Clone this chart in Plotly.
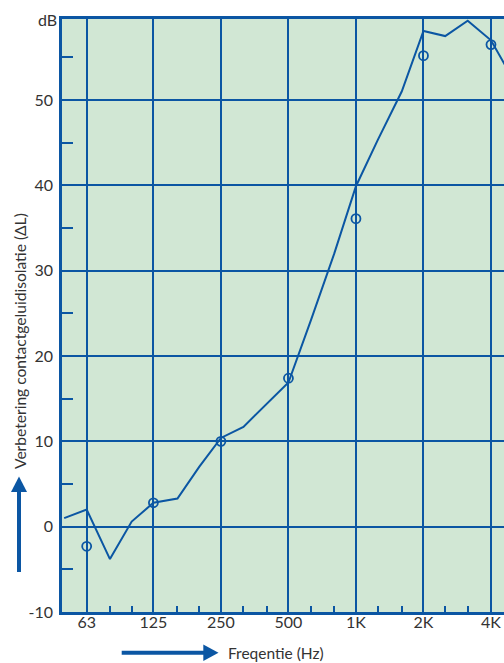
import math
import plotly.graph_objects as go

# Third-octave band centre frequencies (Hz) and measured improvement (dB)
band_freqs = [50, 63, 80, 100, 125, 160, 200, 250, 315, 400, 500, 630, 800,
              1000, 1250, 1600, 2000, 2500, 3150, 4000, 5000]
band_delta_l = [1.0, 2.0, -3.8, 0.6, 2.8, 3.3, 7.0, 10.4, 11.7, 14.4, 16.9, 24.2,
                32.0, 39.9, 45.3, 51.0, 58.1, 57.5, 59.3, 57.0, 52.5]

# Octave band values (circles)
octave_freqs = [63, 125, 250, 500, 1000, 2000, 4000]
octave_delta_l = [-2.3, 2.8, 10.0, 17.4, 36.1, 55.2, 56.5]

octave_labels = ["63", "125", "250", "500", "1K", "2K", "4K"]
third_octave_ticks = [80, 100, 160, 200, 315, 400, 630, 800, 1250, 1600, 2500, 3150]
y_major = [-10, 0, 10, 20, 30, 40, 50]
y_major_labels = ["-10", "0", "10", "20", "30", "40", "50"]
y_minor = [-5, 5, 15, 25, 35, 45, 55]

BLUE = "#0b56a3"
BG = "#d1e7d4"
TXT = "#333333"
FONT = "Lato"

W, H = 504, 663
ML, MR, MT, MB = 62, 0, 19, 51
PW = W - ML - MR
PH = H - MT - MB


def px(x):
    return (x - ML) / PW


def py(y):
    return (H - MB - y) / PH


fig = go.Figure()
fig.add_trace(go.Scatter(
    x=band_freqs, y=band_delta_l, mode="lines",
    line=dict(color=BLUE, width=2), hoverinfo="skip", showlegend=False))
fig.add_trace(go.Scatter(
    x=octave_freqs, y=octave_delta_l, mode="markers",
    marker=dict(symbol="circle-open", size=9, color=BLUE, line=dict(width=1.8, color=BLUE)),
    hoverinfo="skip", showlegend=False))

# Axis arrows
shapes = [
    dict(type="line", xref="paper", yref="paper",
         x0=px(121.7), x1=px(205), y0=py(652.7), y1=py(652.7),
         line=dict(color=BLUE, width=4)),
    dict(type="path", xref="paper", yref="paper",
         path=f"M {px(203.3)} {py(644.5)} L {px(218.5)} {py(652.7)} L {px(203.3)} {py(661)} Z",
         fillcolor=BLUE, line=dict(width=0)),
    dict(type="line", xref="paper", yref="paper",
         x0=px(19), x1=px(19), y0=py(572), y1=py(490),
         line=dict(color=BLUE, width=4)),
    dict(type="path", xref="paper", yref="paper",
         path=f"M {px(11)} {py(492)} L {px(19)} {py(476.5)} L {px(27)} {py(492)} Z",
         fillcolor=BLUE, line=dict(width=0)),
]

annotations = [
    dict(text="dB", xref="paper", yref="paper", x=0, y=1, xanchor="right",
         yanchor="middle", xshift=-3, showarrow=False,
         font=dict(family=FONT, size=16, color=TXT)),
    dict(text="Freqentie (Hz)", xref="paper", yref="paper", x=px(226), y=py(652.5),
         xanchor="left", yanchor="middle", showarrow=False,
         font=dict(family=FONT, size=15.5, color=TXT)),
    dict(text="Verbetering contactgeluidisolatie (ΔL)", xref="paper", yref="paper",
         x=px(20), y=py(471), xanchor="center", yanchor="bottom", textangle=-90,
         showarrow=False, font=dict(family=FONT, size=15.6, color=TXT)),
]

fig.update_layout(
    width=W, height=H,
    margin=dict(l=ML, r=MR, t=MT, b=MB, pad=0),
    paper_bgcolor="white", plot_bgcolor=BG,
    shapes=shapes, annotations=annotations,
    xaxis=dict(
        type="log", range=[math.log10(48.9), math.log10(4572)],
        tickvals=octave_freqs, ticktext=octave_labels, ticks="",
        showgrid=True, gridcolor=BLUE, gridwidth=2,
        showline=True, linecolor=BLUE, linewidth=2.5, mirror=True,
        zeroline=False, ticklabelstandoff=-6,
        tickfont=dict(family=FONT, size=16, color=TXT),
        minor=dict(tickvals=third_octave_ticks, ticks="inside", ticklen=6,
                   tickwidth=2, tickcolor=BLUE, showgrid=False),
    ),
    yaxis=dict(
        range=[-10, 59.5], tickvals=y_major, ticktext=y_major_labels, ticks="",
        showgrid=True, gridcolor=BLUE, gridwidth=2,
        showline=True, linecolor=BLUE, linewidth=2.5,
        zeroline=False, ticklabelstandoff=3,
        tickfont=dict(family=FONT, size=16, color=TXT),
        minor=dict(tickvals=y_minor, ticks="inside", ticklen=11,
                   tickwidth=2, tickcolor=BLUE, showgrid=False),
    ),
)

fig.write_html("out.html")
